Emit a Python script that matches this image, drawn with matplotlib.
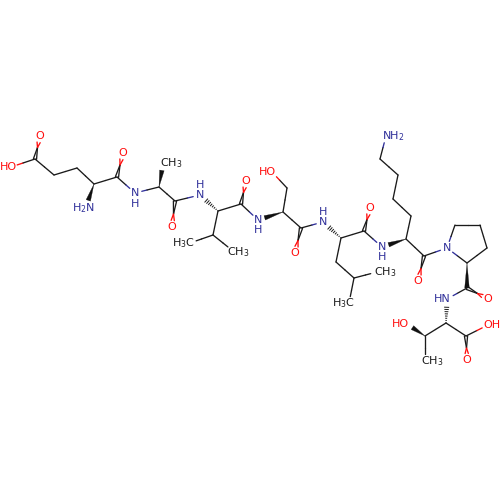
import numpy as np
import matplotlib
matplotlib.use("Agg")
import matplotlib.pyplot as plt

plt.rcParams['mathtext.default'] = 'regular'
plt.rcParams['font.family'] = 'DejaVu Sans'

# atom positions
atom_names = ['OHg','Og','Cd','Cg','Cb','CaE','NE','CE','OE','N1','CaA','CbA','CA','OA',
              'N2','CaV','CV','OV','CbV','Cg1','Cg2','N3','CaS','CbS','OgS','CS','OS',
              'N4','CaL','CL','OL','CbL','CgL','Cd1','Cd2','N5','CaK','CK','OK','CbK','CgK','CdK','CeK','NzK',
              'NP','CdP','CgP','CbP','CaP','CP','OP','N6','CaT','CT','O1T','O2T','CbT','OT','CgT']
atom_x = [11,40,35,54,77,94,86,117,123,135,159,163,175,172,
          200,218,241,246,213,190,233,258,283,287,272,301,295,
          323,341,364,370,336,354,377,349,382,406,424,418,411,393,398,380,386,
          447,455,480,487,467,467,488,447,446,466,488,467,425,407,425]
atom_y = [167,136,159,175,168,184,207,177,153,193,187,164,201,227,
          195,211,204,181,235,243,251,220,212,188,172,228,253,
          222,238,231,208,262,278,272,303,247,239,256,281,216,199,175,159,136,
          248,225,225,248,263,288,299,299,323,336,325,360,336,324,360]
atom_element = ['O','O','C','C','C','C','N','C','O','N','C','C3','C','O',
                'N','C','C','O','C','C3','C3','N','C','C','O','C','O',
                'N','C','C','O','C','C','C3','C3','N','C','C','O','C','C','C','C','N',
                'N','C','C','C','C','C','O','N','C','C','O','O','C','O','C3']

# bonds: single, double, wedge, hash
single_bonds = [('OHg','Cd'),('Cd','Cg'),('Cg','Cb'),('Cb','CaE'),('CaE','CE'),('CE','N1'),('N1','CaA'),
                ('CaA','CA'),('CA','N2'),('CaV','CV'),('CV','N3'),('CaV','CbV'),('CbV','Cg1'),('CbV','Cg2'),
                ('CaS','CbS'),('CbS','OgS'),('CaS','CS'),('CS','N4'),('CaL','CL'),('CL','N5'),('CaL','CbL'),
                ('CbL','CgL'),('CgL','Cd1'),('CgL','Cd2'),('CaK','CK'),('CaK','CbK'),('CbK','CgK'),('CgK','CdK'),
                ('CdK','CeK'),('CeK','NzK'),('CK','NP'),('NP','CdP'),('CdP','CgP'),('CgP','CbP'),('CbP','CaP'),
                ('CaP','NP'),('CP','N6'),('CaT','CT'),('CT','O1T'),('CaT','CbT'),('CbT','CgT')]
double_bonds = [('Cd','Og'),('CE','OE'),('CA','OA'),('CV','OV'),('CS','OS'),('CL','OL'),('CK','OK'),
                ('CP','OP'),('CT','O2T')]
wedge_bonds = [('CaE','NE'),('CaA','CbA'),('CaS','N3'),('CaK','N5'),('CaP','CP'),('CbT','OT')]
hash_bonds = [('CaV','N2'),('CaL','N4'),('CaT','N6')]

# labels
label_text = ['HO','O','H$_2$N','N','H','CH$_3$','O','O','N','H','O','N','H','HO','O','N','H',
              'H$_3$C','CH$_3$','O','N','H','NH$_2$','N','O','O','HN','HO','OH','O','CH$_3$','CH$_3$','H$_3$C']
label_x = [8,40,83,135,135,171,123,172,200,200,246,258,258,267,295,323,323,
           183,238,370,382,382,393,447,418,488,442,400,492,467,432,385,343]
label_y = [167,136,208,193,204,163,153,227,195,185,181,220,230,172,253,222,212,
           243,252,208,247,257,136,248,281,299,299,324,325,360,361,272,303]
label_color = ['O','O','N','N','N','K','O','O','N','N','O','N','N','O','O','N','N',
               'K','K','O','N','N','N','N','O','O','N','O','O','O','K','K','K']

palette = {'K': '#1a1a1a', 'N': '#30309a', 'O': '#ff0d0d', 'C': '#1a1a1a', 'C3': '#1a1a1a'}
gaps = {'C': 0, 'C3': 6.5, 'N': 7, 'O': 6.5}
pos = {n: np.array([x, y], float) for n, x, y in zip(atom_names, atom_x, atom_y)}
elem = dict(zip(atom_names, atom_element))

fig = plt.figure(figsize=(5, 5), dpi=100)
ax = fig.add_axes([0, 0, 1, 1])
ax.set_xlim(0, 500)
ax.set_ylim(500, 0)
ax.axis('off')
LW = 0.95


def ends(a, b):
    p, q = pos[a], pos[b]
    u = (q - p) / np.linalg.norm(q - p)
    return p + u * gaps[elem[a]], q - u * gaps[elem[b]], u


def two_tone(p, q, a, b):
    mid = (pos[a] + pos[b]) / 2
    ax.plot([p[0], mid[0]], [p[1], mid[1]], color=palette[elem[a]], lw=LW, solid_capstyle='round')
    ax.plot([mid[0], q[0]], [mid[1], q[1]], color=palette[elem[b]], lw=LW, solid_capstyle='round')


for a, b in single_bonds:
    p, q, _ = ends(a, b)
    two_tone(p, q, a, b)

for a, b in double_bonds:
    p, q, u = ends(a, b)
    n = np.array([-u[1], u[0]])
    for s in (-1.6, 1.6):
        two_tone(p + n * s, q + n * s, a, b)

for a, b in wedge_bonds:
    p, q, u = ends(a, b)
    n = np.array([-u[1], u[0]])
    ax.fill([p[0], q[0] + n[0] * 2.3, q[0] - n[0] * 2.3],
            [p[1], q[1] + n[1] * 2.3, q[1] - n[1] * 2.3],
            color='#111111', lw=0.2)

for a, b in hash_bonds:
    p, q, u = ends(a, b)
    n = np.array([-u[1], u[0]])
    L = np.linalg.norm(q - p)
    for t in np.arange(0.02, 1.0, 1.0 / (L / 2.2)):
        c = p + (q - p) * t
        w = 0.3 + 2.4 * t
        ax.plot([c[0] - n[0] * w, c[0] + n[0] * w], [c[1] - n[1] * w, c[1] + n[1] * w],
                color=palette['K'], lw=0.7, solid_capstyle='butt')

for t, x, y, c in zip(label_text, label_x, label_y, label_color):
    ax.text(x, y, t, color=palette[c], fontsize=8, ha='center', va='center')

fig.savefig('out.png', dpi=100, facecolor='white')
